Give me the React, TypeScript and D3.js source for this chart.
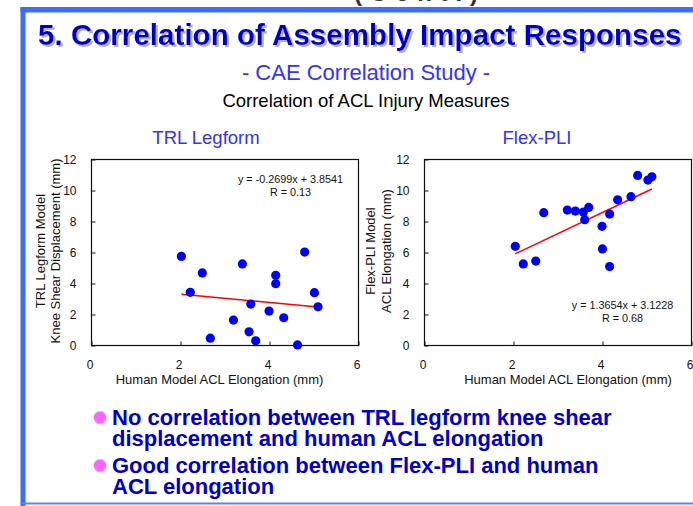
import { useEffect, useRef } from "react";
import * as d3 from "d3";

const W = 693;
const H = 506;

// TRL legform panel: human model ACL elongation (x) vs knee shear displacement (y)
const trlHumanAcl = [2.02, 2.22, 2.49, 2.67, 3.19, 3.39, 3.54, 3.58, 3.69, 3.99, 4.14, 4.14, 4.32, 4.63, 4.79, 5.01, 5.09];
const trlKneeShear = [5.75, 3.43, 4.68, 0.47, 1.64, 5.26, 0.88, 2.67, 0.3, 2.22, 4.53, 3.99, 1.79, 0.04, 6.03, 3.41, 2.5];

// Flex-PLI panel: human model ACL elongation (x) vs Flex-PLI ACL elongation (y)
const flexHumanAcl = [2.04, 2.22, 2.5, 2.68, 3.21, 3.39, 3.57, 3.6, 3.69, 3.99, 4.0, 4.16, 4.16, 4.34, 4.64, 4.79, 5.02, 5.11];
const flexAclElong = [6.4, 5.26, 5.45, 8.57, 8.74, 8.67, 8.61, 8.12, 8.91, 7.69, 6.23, 8.48, 5.09, 9.4, 9.6, 10.97, 10.67, 10.88];

// linear fits [slope, intercept] and R
const trlFit = [-0.2699, 3.8541];
const flexFit = [1.3654, 3.1228];
const trlR = "0.13";
const flexR = "0.68";

const xTicks = [0, 2, 4, 6];
const yTicks = [0, 2, 4, 6, 8, 10, 12];

const bulletLines = [
  ["No correlation between TRL legform knee shear", "displacement and human ACL elongation"],
  ["Good correlation between Flex-PLI and human", "ACL elongation"],
];

const FONT = "Arial, 'Liberation Sans', Helvetica, sans-serif";

function drawPanel(svg, p) {
  const x = d3.scaleLinear().domain([0, 6]).range([p.left, p.left + 267]);
  const y = d3.scaleLinear().domain([0, 12]).range([345.5, 159.5]);
  const g = svg.append("g").attr("font-family", FONT);

  g.append("rect")
    .attr("x", x(0))
    .attr("y", y(12))
    .attr("width", x(6) - x(0))
    .attr("height", y(0) - y(12))
    .attr("fill", "none")
    .attr("stroke", "#111")
    .attr("stroke-width", 1.2);

  const yAxis = g
    .append("g")
    .attr("transform", `translate(${x(0)},0)`)
    .call(
      d3.axisLeft(y).tickValues(yTicks).tickFormat(d3.format("d"))
        .tickSizeInner(-4).tickSizeOuter(0).tickPadding(15)
    );
  yAxis.select(".domain").remove();
  yAxis.selectAll("text").attr("font-size", 12).attr("font-family", FONT).attr("fill", "#111");
  yAxis.selectAll("line").attr("stroke", "#111");

  const xAxis = g
    .append("g")
    .attr("transform", `translate(0,${y(0)})`)
    .call(
      d3.axisBottom(x).tickValues(xTicks).tickFormat(d3.format("d"))
        .tickSizeInner(-4).tickSizeOuter(0).tickPadding(15)
    );
  xAxis.select(".domain").remove();
  xAxis.selectAll("text").attr("font-size", 12).attr("font-family", FONT).attr("fill", "#111").attr("dx", -2);
  xAxis.selectAll("line").attr("stroke", "#111");

  // chart title
  g.append("text")
    .attr("x", p.titleX)
    .attr("y", 144)
    .attr("text-anchor", "middle")
    .attr("font-size", 18.5)
    .attr("fill", "#3333ff")
    .text(p.title);

  // x axis title
  g.append("text")
    .attr("x", p.xTitleX)
    .attr("y", 384)
    .attr("text-anchor", "middle")
    .attr("font-size", 13)
    .attr("fill", "#111")
    .text("Human Model ACL Elongation (mm)");

  // y axis title (two lines)
  p.yTitle.forEach((t, i) => {
    g.append("text")
      .attr("transform", `translate(${p.yTitleX[i]},251) rotate(-90)`)
      .attr("text-anchor", "middle")
      .attr("font-size", 13)
      .attr("fill", "#111")
      .text(t);
  });

  // fit line
  const [slope, intercept] = p.fit;
  const xr = d3.extent(p.xs);
  const line = d3
    .line()
    .x((d) => x(d))
    .y((d) => y(slope * d + intercept));
  g.append("path")
    .datum(xr)
    .attr("d", line)
    .attr("fill", "none")
    .attr("stroke", "#ff0000")
    .attr("stroke-width", 1.5);

  // points
  g.selectAll("circle.pt")
    .data(p.xs.map((v, i) => [v, p.ys[i]]))
    .enter()
    .append("circle")
    .attr("class", "pt")
    .attr("cx", (d) => x(d[0]))
    .attr("cy", (d) => y(d[1]))
    .attr("r", 4.6)
    .attr("fill", "#0000ff");

  // equation
  const sign = intercept >= 0 ? "+" : "-";
  g.append("text")
    .attr("x", p.eqX)
    .attr("y", p.eqY)
    .attr("text-anchor", "middle")
    .attr("font-size", 10.8)
    .attr("fill", "#111")
    .text(`y = ${slope}x ${sign} ${Math.abs(intercept)}`);
  g.append("text")
    .attr("x", p.eqX)
    .attr("y", p.eqY + 13)
    .attr("text-anchor", "middle")
    .attr("font-size", 10.8)
    .attr("fill", "#111")
    .text(`R = ${p.r}`);
}

const App = () => {
  const ref = useRef(null);

  useEffect(() => {
    document.body.style.margin = "0";
    const svg = d3.select(ref.current);
    svg.selectAll("*").remove();

    // drop shadow for the slide title
    const f = svg.append("defs").append("filter")
      .attr("id", "title-shadow")
      .attr("x", "-5%").attr("y", "-20%").attr("width", "110%").attr("height", "150%");
    f.append("feFlood").attr("flood-color", "#b4b4b4").attr("result", "c");
    f.append("feComposite").attr("in", "c").attr("in2", "SourceAlpha").attr("operator", "in").attr("result", "s");
    f.append("feOffset").attr("in", "s").attr("dx", 2).attr("dy", 2).attr("result", "o");
    const m = f.append("feMerge");
    m.append("feMergeNode").attr("in", "o");
    m.append("feMergeNode").attr("in", "SourceGraphic");

    // slide frame
    svg.append("rect").attr("x", 20.5).attr("y", 7).attr("width", W - 20.5).attr("height", 5.5).attr("fill", "#3d6ef5");
    svg.append("rect").attr("x", 20.5).attr("y", 7).attr("width", 5).attr("height", H - 7).attr("fill", "#3d6ef5");
    svg.append("rect").attr("x", 20.5).attr("y", 502.5).attr("width", W - 20.5).attr("height", 2).attr("fill", "#5a85f0");

    // cut off text from the slide above
    svg.append("text")
      .attr("x", 354)
      .attr("y", 0.5)
      .attr("font-family", FONT)
      .attr("font-weight", "bold")
      .attr("font-size", 24)
      .attr("fill", "#333")
      .attr("textLength", 124)
      .attr("lengthAdjust", "spacing")
      .text("(Cont.)");

    // main title
    svg.append("text")
      .attr("x", 38)
      .attr("y", 45)
      .attr("font-family", FONT)
      .attr("font-weight", "bold")
      .attr("font-size", 29.6)
      .attr("fill", "#0000c8")
      .attr("filter", "url(#title-shadow)")
      .text("5. Correlation of Assembly Impact Responses");

    svg.append("text")
      .attr("x", 366)
      .attr("y", 80)
      .attr("text-anchor", "middle")
      .attr("font-family", FONT)
      .attr("font-size", 22)
      .attr("fill", "#3333ff")
      .text("- CAE Correlation Study -");

    svg.append("text")
      .attr("x", 366)
      .attr("y", 107)
      .attr("text-anchor", "middle")
      .attr("font-family", FONT)
      .attr("font-size", 18.5)
      .attr("fill", "#000")
      .text("Correlation of ACL Injury Measures");

    drawPanel(svg, {
      left: 91.5,
      title: "TRL Legform",
      titleX: 206,
      xTitleX: 219.5,
      yTitle: ["TRL Legform Model", "Knee Shear Displacement (mm)"],
      yTitleX: [45, 60],
      xs: trlHumanAcl,
      ys: trlKneeShear,
      fit: trlFit,
      r: trlR,
      eqX: 290.5,
      eqY: 183,
    });

    drawPanel(svg, {
      left: 424.5,
      title: "Flex-PLI",
      titleX: 537,
      xTitleX: 568,
      yTitle: ["Flex-PLI Model", "ACL Elongation (mm)"],
      yTitleX: [375, 390.5],
      xs: flexHumanAcl,
      ys: flexAclElong,
      fit: flexFit,
      r: flexR,
      eqX: 622.5,
      eqY: 309,
    });

    // bullets
    const bulletBase = [425, 473];
    bulletLines.forEach((lines, i) => {
      svg.append("circle")
        .attr("cx", 100)
        .attr("cy", bulletBase[i] - 7.5)
        .attr("r", 6.3)
        .attr("fill", "#ff66ff");
      lines.forEach((t, j) => {
        svg.append("text")
          .attr("x", 112)
          .attr("y", bulletBase[i] + j * 20.5)
          .attr("font-family", FONT)
          .attr("font-weight", "bold")
          .attr("font-size", 22)
          .attr("fill", "#0000c8")
          .text(t);
      });
    });
  }, []);

  return (
    <svg
      ref={ref}
      width={W}
      height={H}
      style={{ position: "absolute", left: 0, top: 0, background: "#fff" }}
    ></svg>
  );
};

export default App;
